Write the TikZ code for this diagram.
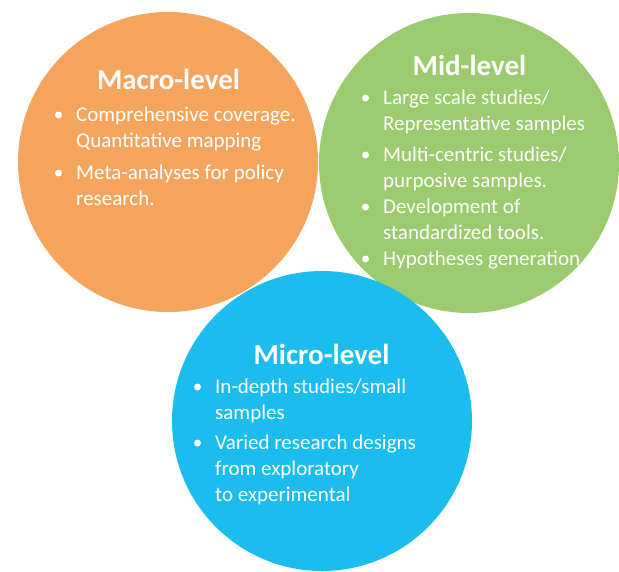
\documentclass[tikz,border=0pt]{standalone}
\usepackage{fontspec}
\setmainfont{Carlito}
\usetikzlibrary{calc}
\definecolor{macroorange}{HTML}{F5A45D}
\definecolor{midgreen}{HTML}{9BCB6E}
\definecolor{microblue}{HTML}{1ABDED}
\newcommand{\itemlines}[1]{\begin{tabular}[t]{@{}l@{}}#1\end{tabular}}

\begin{document}
\begin{tikzpicture}[x=1pt,y=-1pt]
            \tikzset{level/.style = {shape=circle,minimum size=300pt,inner sep=0pt}}
            \tikzset{title/.style = {anchor=base,text=white,font=\fontsize{29}{34}\selectfont\bfseries}}
            \tikzset{item/.style = {anchor=base west,inner sep=0pt,text=white,font=\fontsize{21}{26}\selectfont}}
            \tikzset{dot/.style = {shape=circle,fill=white,minimum size=7pt,inner sep=0pt}}

            \useasboundingbox (0,0) rectangle (619,571);

            \node[level,fill=macroorange] (macro) at (168,162) {};
            \node[level,fill=midgreen] (mid) at (469,163) {};
            \node[level,fill=microblue] (micro) at (322,421) {};

            \node[title] (macro-t) at (168.5,89) {Macro-level};
            \node[item] (macro-1) at (76,121) {\itemlines{Comprehensive coverage.\\Quantitative mapping}};
            \node[item] (macro-2) at (76,179) {\itemlines{Meta-analyses for policy\\research.}};

            \node[title] (mid-t) at (469.5,75) {Mid-level};
            \node[item] (mid-1) at (383,104) {\itemlines{Large scale studies/\\Representative samples}};
            \node[item] (mid-2) at (383,161) {\itemlines{Multi-centric studies/\\purposive samples.}};
            \node[item] (mid-3) at (383,213) {\itemlines{Development of\\standardized tools.}};
            \node[item] (mid-4) at (383,265) {\itemlines{Hypotheses generation}};

            \node[title] (micro-t) at (321.5,364) {Micro-level};
            \node[item] (micro-1) at (215,393) {\itemlines{In-depth studies/small\\samples}};
            \node[item] (micro-2) at (215,449) {\itemlines{Varied research designs\\from exploratory\\to experimental}};

            \foreach \n in {macro-1,macro-2,mid-1,mid-2,mid-3,mid-4,micro-1,micro-2}
              \node[dot] (\n-dot) at ($(\n.base west)+(-17.5,-6)$) {};
          \end{tikzpicture}
\end{document}
